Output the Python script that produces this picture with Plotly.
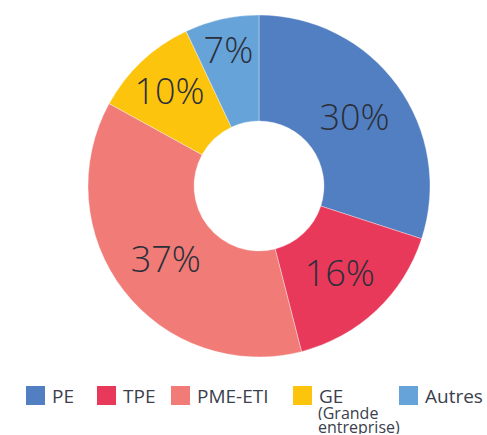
import plotly.graph_objects as go

# Data
categories = ["PE", "TPE", "PME-ETI", "GE", "Autres"]
values = [30, 16, 37, 10, 7]
legend_sub = [[], [], [], ["(Grande", "entreprise)"], []]
colors = ["#527fc1", "#e8395a", "#f07b77", "#fdc40e", "#66a3d8"]

W, H = 487, 435
text_color = "#2b2f3a"
legend_color = "#3b404c"
FONT = "Open Sans"

fig = go.Figure()
fig.add_trace(go.Pie(
    labels=categories,
    values=values,
    sort=False,
    direction="clockwise",
    rotation=0,
    hole=0.38,
    marker=dict(colors=colors, line=dict(color="rgba(255,255,255,0.6)", width=0.6)),
    texttemplate="%{value}%",
    textposition="inside",
    insidetextorientation="horizontal",
    textfont=dict(family=FONT, size=36, color=text_color, weight=300),
    showlegend=False,
    hoverinfo="label+percent",
    domain=dict(x=[88 / W, 430 / W], y=[(H - 357) / H, (H - 15) / H]),
))

# Legend built from arrays (layout positions only)
legend_x = [26, 97, 171, 293, 399]   # left edge of square, px
sq = 19
sq_top = 386
sub_y = [413, 427]                   # centres of the sub-lines, px
for i, (name, col, sub) in enumerate(zip(categories, colors, legend_sub)):
    x0 = legend_x[i]
    fig.add_shape(type="rect", xref="paper", yref="paper",
                  x0=x0 / W, x1=(x0 + sq) / W,
                  y0=1 - (sq_top + sq) / H, y1=1 - sq_top / H,
                  fillcolor=col, line=dict(width=0))
    fig.add_annotation(xref="paper", yref="paper", x=(x0 + sq + 5) / W,
                       y=1 - (sq_top + sq / 2 + 0.5) / H, xanchor="left", yanchor="middle",
                       text=name, showarrow=False,
                       font=dict(family=FONT, size=19, color=legend_color))
    for j, line in enumerate(sub):
        fig.add_annotation(xref="paper", yref="paper", x=(x0 + sq + 5) / W,
                           y=1 - sub_y[j] / H, xanchor="left", yanchor="middle",
                           text=line, showarrow=False, align="left",
                           height=14, borderpad=0, valign="middle",
                           font=dict(family=FONT, size=16, color=legend_color))

fig.update_layout(
    width=W, height=H,
    margin=dict(l=0, r=0, t=0, b=0),
    paper_bgcolor="white",
    plot_bgcolor="white",
    uniformtext=dict(minsize=36, mode="show"),
    font=dict(family=FONT),
)

fig.write_html("out.html")
